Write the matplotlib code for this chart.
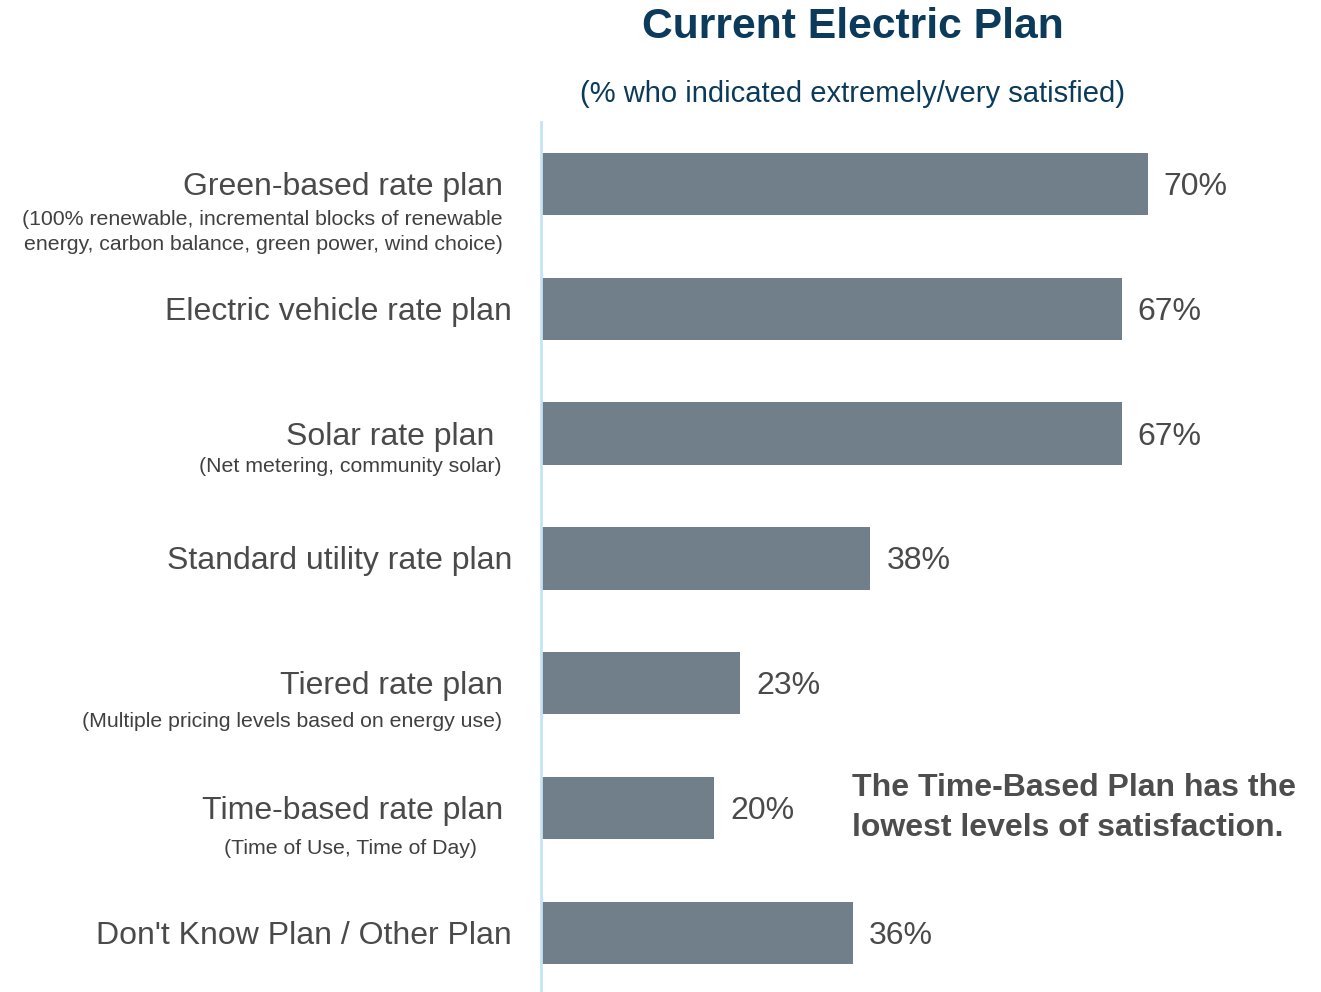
import matplotlib.pyplot as plt

plt.rcParams['font.family'] = ['Liberation Sans', 'DejaVu Sans']

# data
plans = ['Green-based rate plan', 'Electric vehicle rate plan', 'Solar rate plan',
         'Standard utility rate plan', 'Tiered rate plan', 'Time-based rate plan',
         "Don't Know Plan / Other Plan"]
notes = ['(100% renewable, incremental blocks of renewable\nenergy, carbon balance, green power, wind choice)',
         '', '(Net metering, community solar)', '', '(Multiple pricing levels based on energy use)',
         '(Time of Use, Time of Day)', '']
satisfied = [70, 67, 67, 38, 23, 20, 36]

# layout (pixel offsets from the axis line)
label_dx = [-38, -29, -47, -29, -38, -38, -29]
note_dx = [-38, 0, -39, 0, -39, -190, 0]
note_dy = [-48, 0, -33, 0, -38, -40, 0]
note_ha = ['right', 'right', 'right', 'right', 'right', 'center', 'right']

bar_color = '#717f8a'
text_color = '#4a4a4a'
navy = '#0b3a5a'

fig = plt.figure(figsize=(13.21, 9.92), dpi=100)
ax = fig.add_axes([541 / 1321, 0, 1 - 541 / 1321, 1 - 122 / 992])

pos = list(range(len(plans)))
ax.barh(pos, satisfied, height=0.5, color=bar_color)
ax.set_xlim(0, 90)
ax.set_ylim(6.474, -0.497)

for s in ['top', 'right', 'bottom']:
    ax.spines[s].set_visible(False)
ax.spines['left'].set_color('#c5e3f5')
ax.spines['left'].set_linewidth(2)
ax.set_xticks([])
ax.set_yticks([])

for i, v in enumerate(satisfied):
    ax.annotate(f'{v}%', xy=(v, i), xytext=(16, -3), textcoords='offset pixels',
                ha='left', va='center', fontsize=23, color=text_color)
    ax.annotate(plans[i], xy=(0, i), xytext=(label_dx[i], -3), textcoords='offset pixels',
                ha='right', va='center', fontsize=23, color=text_color,
                annotation_clip=False)
    if notes[i]:
        ax.annotate(notes[i], xy=(0, i), xytext=(note_dx[i], note_dy[i]),
                    textcoords='offset pixels', ha=note_ha[i], va='center',
                    multialignment='right', linespacing=1.45,
                    fontsize=15.3, color='#404040', annotation_clip=False)

fig.text(853 / 1321, 1 - 27 / 992, 'Current Electric Plan', ha='center', va='center',
         fontsize=30.7, fontweight='bold', color=navy)
fig.text(853 / 1321, 1 - 94 / 992, '(% who indicated extremely/very satisfied)',
         ha='center', va='center', fontsize=21, color=navy)

fig.text(852 / 1321, 1 - 808 / 992, 'The Time-Based Plan has the\nlowest levels of satisfaction.',
         ha='left', va='center', fontsize=23, fontweight='bold', color='#4d4d4d',
         linespacing=1.45)

fig.savefig('out.png', dpi=100)
